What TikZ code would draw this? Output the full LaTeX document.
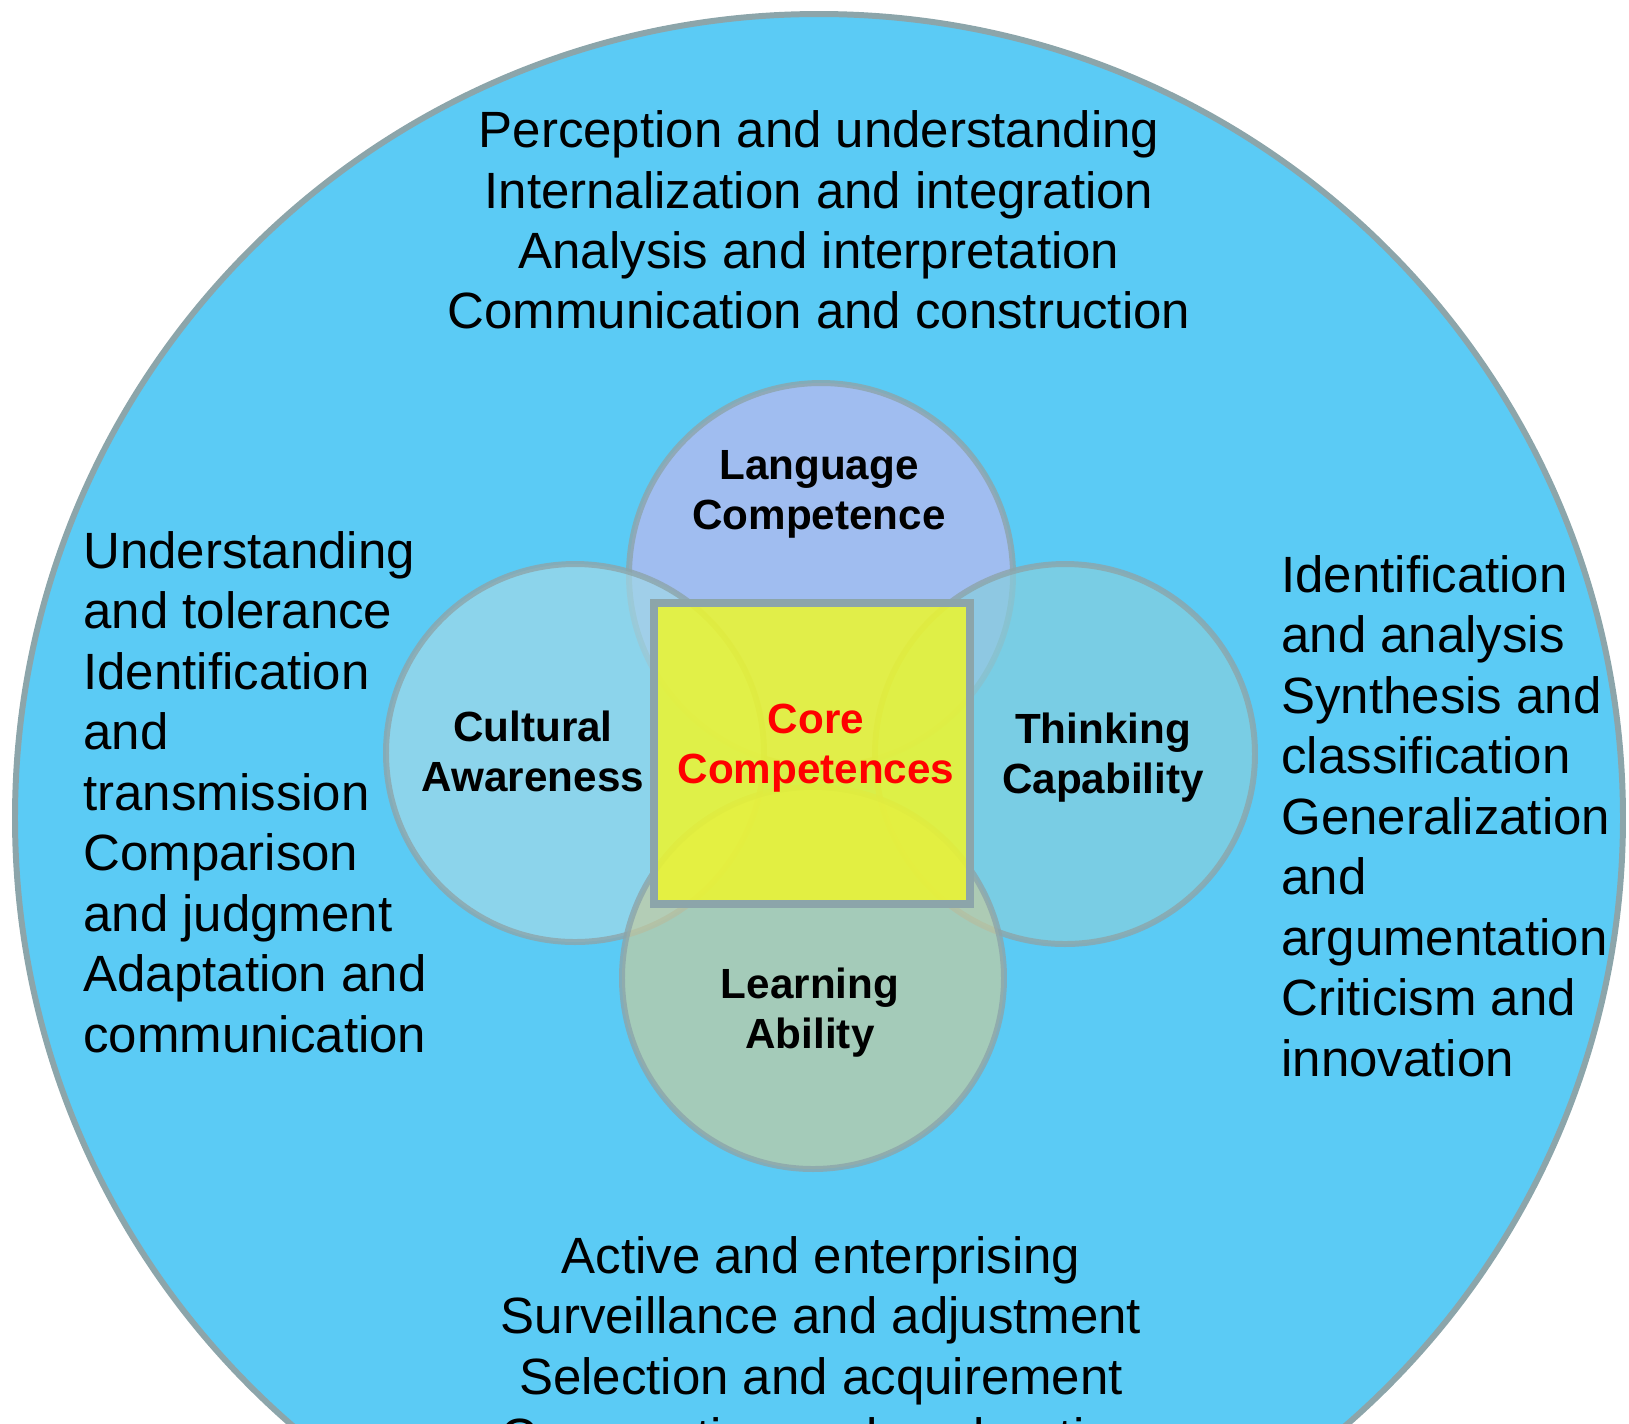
\documentclass[tikz,border=0pt]{standalone}
\usepackage{fontspec}
\setmainfont{Liberation Sans}
\usepackage{tikz}
\definecolor{ringblue}{RGB}{91,203,245}
\definecolor{ringgray}{RGB}{140,165,170}
\definecolor{langblue}{RGB}{190,184,238}
\definecolor{cultblue}{RGB}{161,216,231}
\definecolor{thinkblue}{RGB}{135,206,221}
\definecolor{learngreen}{RGB}{196,203,160}
\definecolor{coreyellow}{RGB}{235,245,50}
\tikzset{
  outertext/.style={text=black,align=left,font=\fontsize{14.5}{17.2}\selectfont},
  skilltext/.style={text=black,align=center,font=\bfseries\fontsize{12}{14.2}\selectfont},
  skill/.style={draw=ringgray,line width=1.7pt,fill opacity=.7,draw opacity=.8}
}

\begin{document}
\begin{tikzpicture}[x=0.01cm,y=-0.01cm]
	\useasboundingbox (0,0) rectangle (1629,1423);
	\clip (0,0) rectangle (1629,1423);
	\draw[draw=ringgray,line width=1.7pt,fill=ringblue] (819,818) circle (804);
	\draw[skill,fill=langblue] (821,575) circle (192);
	\draw[skill,fill=cultblue] (575,753) circle (189);
	\draw[skill,fill=thinkblue] (1065,754) circle (190);
	\draw[skill,fill=learngreen] (813,978) circle (191);
	\draw[draw=ringgray,line width=2.3pt,fill=coreyellow,fill opacity=.88] (654,603) rectangle (970,904);
	\node[skilltext] (lang) at (819,494) {Language\\Competence};
	\node[skilltext] (cult) at (533,751) {Cultural\\Awareness};
	\node[skilltext] (think) at (1103,758) {Thinking\\Capability};
	\node[skilltext] (learn) at (810,1013) {Learning\\Ability};
	\node[skilltext,text=red] (core) at (816,748) {Core\\Competences};
	\node[outertext,align=center] (langskills) at (819,220)
		{Perception and understanding\\Internalization and integration\\Analysis and interpretation\\Communication and construction};
	\node[outertext,anchor=west] (cultskills) at (71,792)
		{Understanding\\and tolerance\\Identification\\and\\transmission\\Comparison\\and judgment\\Adaptation and\\communication};
	\node[outertext,anchor=west] (thinkskills) at (1269,816)
		{Identification\\and analysis\\Synthesis and\\classification\\Generalization\\and\\argumentation\\Criticism and\\innovation};
	\node[outertext,align=center] (learnskills) at (821,1351)
		{Active and enterprising\\Surveillance and adjustment\\Selection and acquirement\\Cooperation and exploration};
\end{tikzpicture}
\end{document}
